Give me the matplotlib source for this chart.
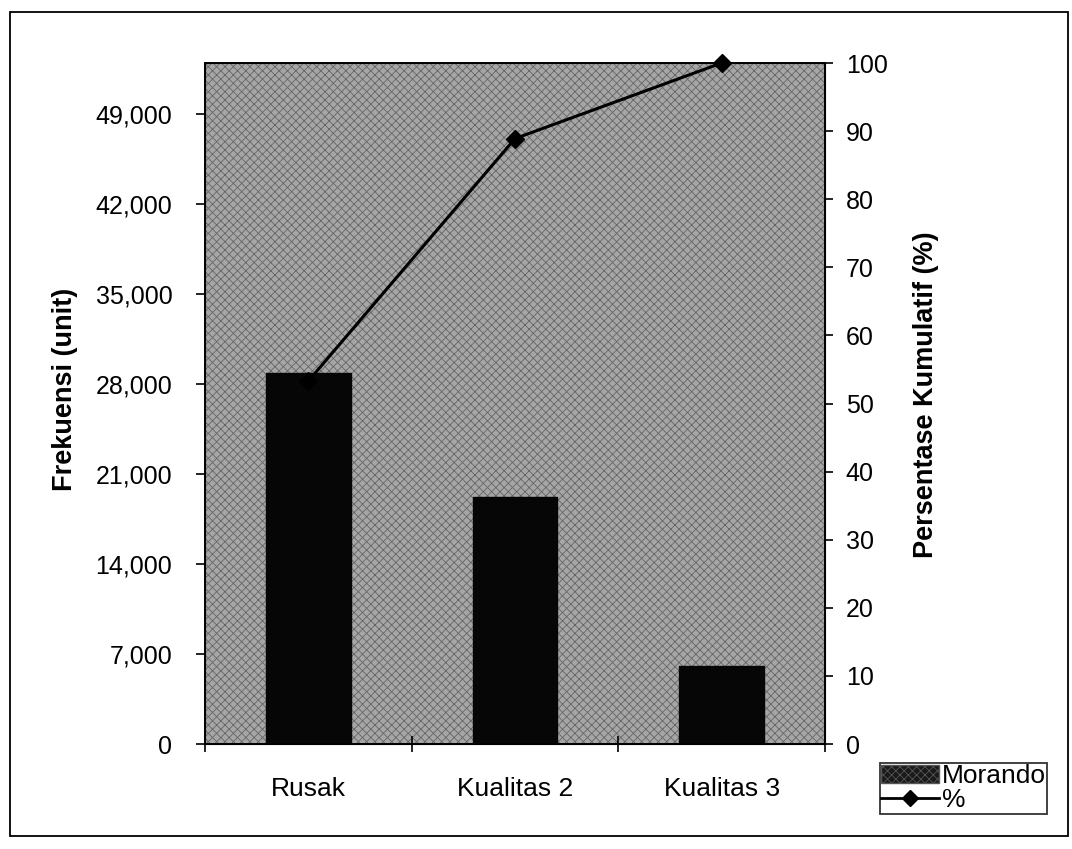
import matplotlib
matplotlib.use("Agg")
import matplotlib.pyplot as plt
from matplotlib.patches import Rectangle
from matplotlib.lines import Line2D
from matplotlib.ticker import FuncFormatter, FixedLocator
import numpy as np

categories = ["Rusak", "Kualitas 2", "Kualitas 3"]
frekuensi = [28900, 19250, 6050]
persen_kumulatif = [53.3, 88.9, 100.0]
left_ticks = [0, 7000, 14000, 21000, 28000, 35000, 42000, 49000]
right_ticks = [0, 10, 20, 30, 40, 50, 60, 70, 80, 90, 100]

plt.rcParams['font.family'] = ['Liberation Sans', 'DejaVu Sans']
plt.rcParams['hatch.linewidth'] = 0.6

W, H = 1072, 849
fig = plt.figure(figsize=(W / 100, H / 100), dpi=100)
fig.patch.set_facecolor('white')
# outer border
fig.add_artist(Rectangle((10 / W, 1 - 836 / H), 1058 / W, 824 / H, transform=fig.transFigure,
                         fill=False, edgecolor='black', linewidth=1.3))

L, R, T, B = 205, 825, 63, 744
ax = fig.add_axes([L / W, 1 - B / H, (R - L) / W, (B - T) / H])
ax.set_facecolor('#a6a6a6')
ax.add_patch(Rectangle((0, 0), 1, 1, transform=ax.transAxes, facecolor='none',
                       edgecolor='#666666', hatch='xxxx', linewidth=0, zorder=0))

x = np.arange(len(categories))
ax.bar(x, frekuensi, width=0.41, color='#060606', edgecolor='#060606', zorder=2)
ax.set_xlim(-0.5, 2.5)
ax.set_ylim(0, 53000)
ax.yaxis.set_major_locator(FixedLocator(left_ticks))
ax.yaxis.set_major_formatter(FuncFormatter(lambda v, p: f"{int(v):,}"))
ax.set_xticks([-0.5, 0.5, 1.5, 2.5])
ax.set_xticklabels([])
ax.set_xticks(x, minor=True)
ax.set_xticklabels(categories, minor=True, fontsize=19)
ax.tick_params(axis='x', which='minor', length=0, pad=24)
ax.tick_params(axis='x', which='major', direction='inout', length=12, width=1.2)
ax.tick_params(axis='y', direction='out', length=6.5, width=1.2, labelsize=18, pad=17)
for s in ax.spines.values():
    s.set_linewidth(1.4)

ax2 = ax.twinx()
ax2.plot(x, persen_kumulatif, color='black', linewidth=2.2, marker='D', markersize=9,
         markerfacecolor='black', zorder=3, clip_on=False)
ax2.set_ylim(0, 100)
ax2.yaxis.set_major_locator(FixedLocator(right_ticks))
ax2.tick_params(axis='y', direction='out', length=6, width=1.2, labelsize=18, pad=9)

fig.text(65 / W, 1 - 389 / H, "Frekuensi (unit)", rotation=90, ha='center', va='center',
         fontsize=19.5, fontweight='bold')
fig.text(926 / W, 1 - 395 / H, "Persentase Kumulatif (%)", rotation=90, ha='center',
         va='center', fontsize=19.5, fontweight='bold')

handles = [Rectangle((0, 0), 1, 1, facecolor='#1a1a1a', edgecolor='#555555', hatch='xxxx'),
           Line2D([0], [0], color='black', linewidth=2, marker='D', markersize=8)]
leg = fig.legend(handles, ["Morando", "%"], loc='upper left',
                 bbox_to_anchor=(880 / W, 1 - 763 / H), fontsize=19, frameon=True,
                 fancybox=False, edgecolor='black', borderpad=0.05, labelspacing=0.0,
                 handlelength=2.2, handletextpad=0.1, borderaxespad=0)
leg.get_frame().set_linewidth(1.3)

fig.savefig("out.png", dpi=100)
